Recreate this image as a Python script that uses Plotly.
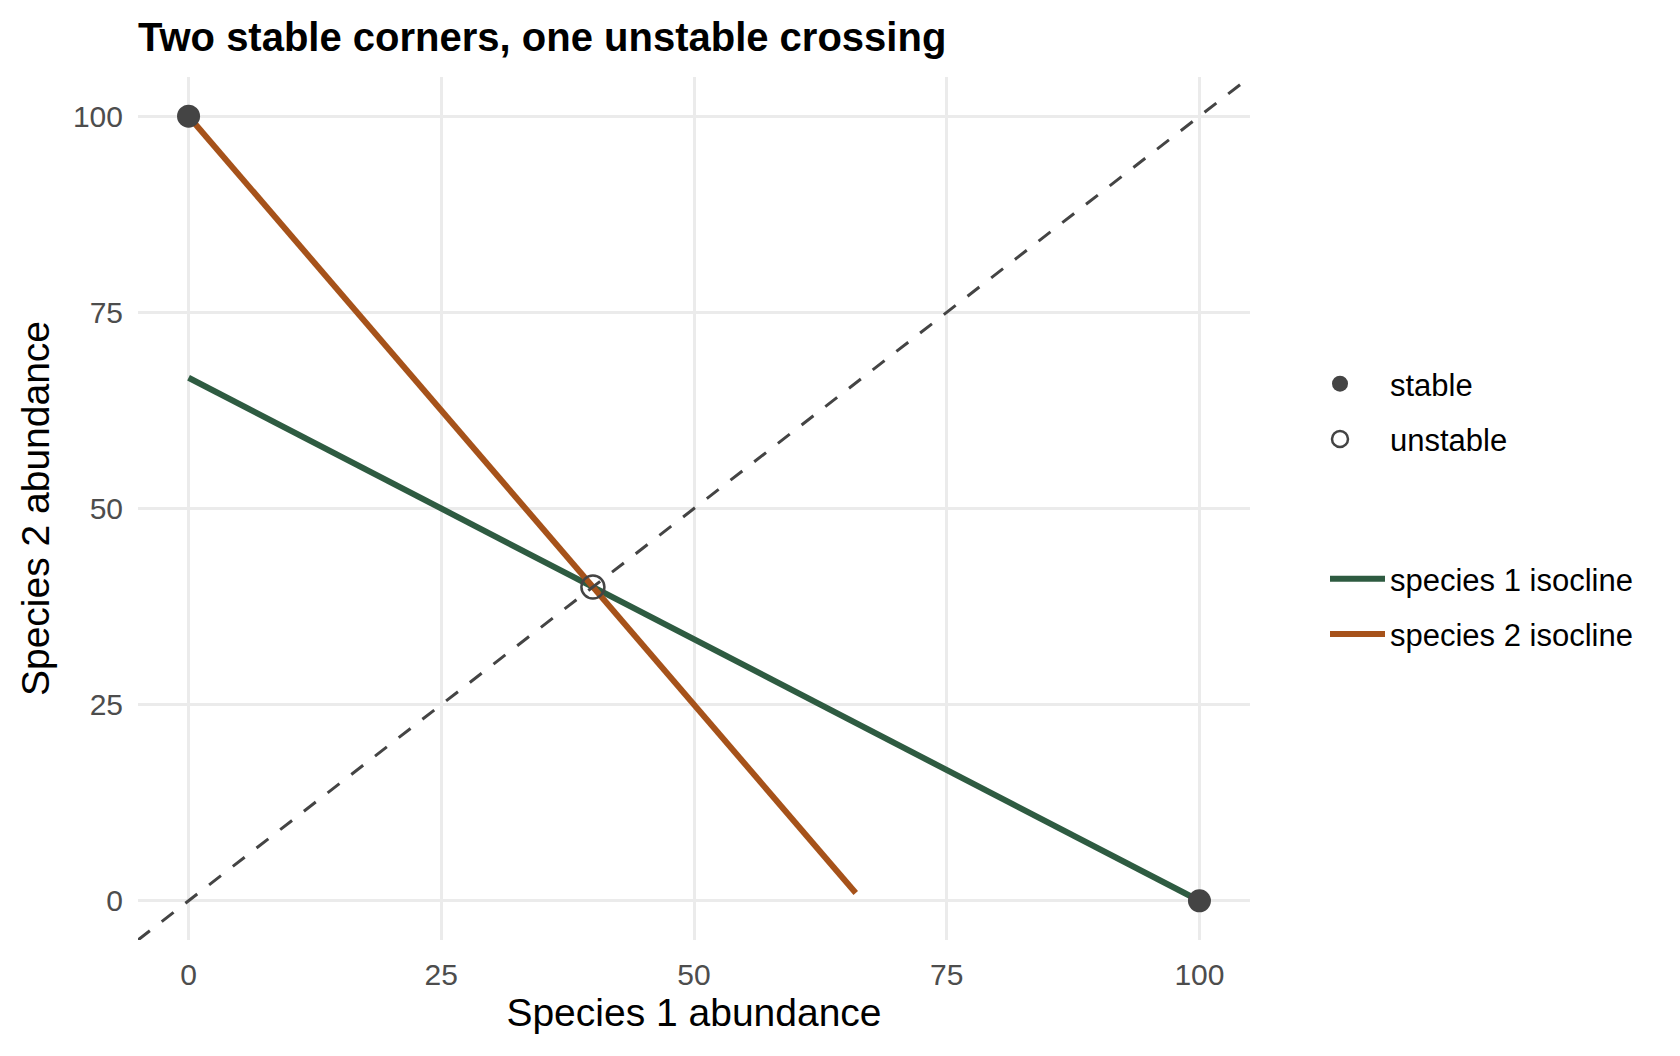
import plotly.graph_objects as go

# ---- data ----
iso1_x = [0, 100]
iso1_y = [66.67, 0]
iso2_x = [0, 66]
iso2_y = [100, 1]
diag_x = [-5, 105]
diag_y = [-5, 105]
stable_x = [0, 100]
stable_y = [100, 0]
unstable_x = [40]
unstable_y = [40]
ticks = [0, 25, 50, 75, 100]
tick_labels = ["0", "25", "50", "75", "100"]

GREEN = "#2E5B41"
ORANGE = "#A6521A"
GRAY = "#444444"
FONT = "Liberation Sans, Arial, sans-serif"

fig = go.Figure()
fig.add_trace(go.Scatter(x=iso1_x, y=iso1_y, mode="lines", name="species 1 isocline",
                         line=dict(color=GREEN, width=6), legend="legend2", legendgroup="a"))
fig.add_trace(go.Scatter(x=iso2_x, y=iso2_y, mode="lines", name="species 2 isocline",
                         line=dict(color=ORANGE, width=6), legend="legend2", legendgroup="b"))
fig.add_trace(go.Scatter(x=diag_x, y=diag_y, mode="lines", showlegend=False,
                         line=dict(color=GRAY, width=3, dash="15px,15px")))
fig.add_trace(go.Scatter(x=stable_x, y=stable_y, mode="markers", name="stable",
                         marker=dict(color=GRAY, size=23, line=dict(width=0)),
                         legend="legend", legendgroup="c"))
fig.add_trace(go.Scatter(x=unstable_x, y=unstable_y, mode="markers", name="unstable",
                         marker=dict(color="rgba(0,0,0,0)", size=23, line=dict(color=GRAY, width=2.5)),
                         legend="legend", legendgroup="d"))

axis_common = dict(
    range=[-5, 105], tickvals=ticks, ticktext=tick_labels,
    showgrid=True, gridcolor="#EBEBEB", gridwidth=2.8, zeroline=False,
    showline=False, ticks="", tickfont=dict(size=30, color="#4D4D4D", family=FONT),
)

fig.update_layout(
    width=1680, height=1056,
    margin=dict(l=138, r=430, t=77, b=116, autoexpand=False),
    plot_bgcolor="white", paper_bgcolor="white",
    font=dict(family=FONT, color="black"),
    title=dict(text="<b>Two stable corners, one unstable crossing</b>",
               x=138 / 1680, xref="container", xanchor="left",
               y=1 - 37 / 1056, yref="container", yanchor="middle",
               font=dict(size=40, color="black", family=FONT)),
    xaxis=dict(**axis_common, title=dict(text="Species 1 abundance", font=dict(size=39), standoff=8),
               ticklabelstandoff=14),
    yaxis=dict(**axis_common, title=dict(text="Species 2 abundance", font=dict(size=39), standoff=11),
               ticklabelstandoff=14),
    legend=dict(xref="container", yref="container", x=1290 / 1680, y=1 - 357 / 1056,
                xanchor="left", yanchor="top", font=dict(size=31, family=FONT),
                tracegroupgap=12, itemwidth=90, bgcolor="rgba(0,0,0,0)"),
    legend2=dict(xref="container", yref="container", x=1325 / 1680, y=1 - 552 / 1056,
                 xanchor="left", yanchor="top", font=dict(size=31, family=FONT),
                 tracegroupgap=12, itemwidth=55, bgcolor="rgba(0,0,0,0)"),
    showlegend=True,
)

fig.write_html("out.html")
